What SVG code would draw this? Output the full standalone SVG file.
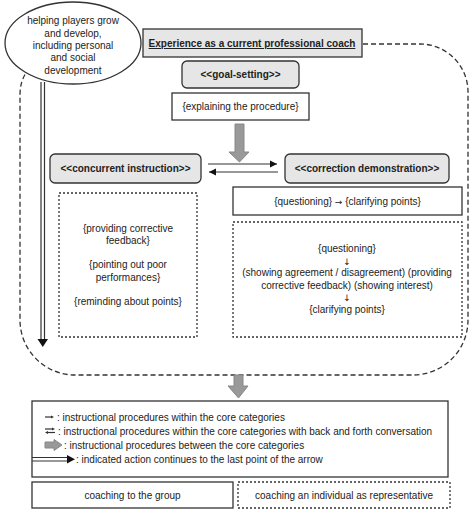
<svg xmlns="http://www.w3.org/2000/svg" width="474" height="514" viewBox="0 0 474 514">
<defs>
<style>
text{font-family:"Liberation Sans",Arial,sans-serif;font-size:10px;fill:#222;text-anchor:middle}
.b{font-weight:bold}
.l{text-anchor:start}
.ar{font-family:"DejaVu Sans",sans-serif;font-size:9px}
.box{fill:#fff;stroke:#333;stroke-width:1.3}
.gbox{fill:#e6e6e6;stroke:#333;stroke-width:1.3}
.dot{fill:#fff;stroke:#333;stroke-width:1.3;stroke-dasharray:2 2}
.dash{fill:none;stroke:#333;stroke-width:1.3;stroke-dasharray:5 3}
.ln{stroke:#333;stroke-width:1.2;fill:none}
.blk{fill:#999;stroke:#888;stroke-width:1}
</style>
<marker id="ah" markerWidth="8" markerHeight="8" refX="7" refY="4" orient="auto" markerUnits="userSpaceOnUse">
<path d="M0,0.5 L7,4 L0,7.5 Z" fill="#111"/>
</marker>
</defs>
<rect width="474" height="514" fill="#fff"/>

<g id="connectors">
<path class="dash" d="M363 44 H420 A48 48 0 0 1 468 92 V320 A55 55 0 0 1 413 375 H75 A55 55 0 0 1 20 320 V95 Q20 82 26 73"/>
<line class="ln" x1="208" y1="164" x2="277" y2="164" marker-end="url(#ah)"/>
<line class="ln" x1="278" y1="172" x2="209" y2="172" marker-end="url(#ah)"/>
<path class="blk" d="M235 124 H244 V152 H249 L239.5 162 L229 152 H235 Z"/>
<path class="blk" d="M234 375 H243 V386 H248 L238.5 398 L228 386 H234 Z"/>
<line class="ln" x1="41" y1="82" x2="41" y2="340"/>
<line class="ln" x1="44.5" y1="82" x2="44.5" y2="340"/>
<path d="M37.5 339 H48 L42.75 347 Z" fill="#111"/>
</g>

<g id="goal-ellipse">
<ellipse cx="73" cy="43" rx="68" ry="41" fill="#fff" stroke="#333" stroke-width="1.3"/>
<text x="73" y="24">helping players grow</text>
<text x="73" y="36.5">and develop,</text>
<text x="73" y="49">including personal</text>
<text x="73" y="61">and social</text>
<text x="73" y="74">development</text>
</g>

<g id="title">
<rect class="gbox" x="143" y="29" width="219" height="28"/>
<text class="b" x="252" y="47" text-decoration="underline">Experience as a current professional coach</text>
</g>

<g id="goal-setting">
<rect class="gbox" x="182" y="61" width="117" height="27" rx="5"/>
<text class="b" x="240.5" y="78">&lt;&lt;goal-setting&gt;&gt;</text>
</g>

<g id="explaining">
<rect class="box" x="172" y="93" width="137" height="27"/>
<text x="240.5" y="110">{explaining the procedure}</text>
</g>

<g id="concurrent">
<rect class="gbox" x="50" y="154" width="151" height="29" rx="5"/>
<text class="b" x="125.5" y="172">&lt;&lt;concurrent instruction&gt;&gt;</text>
</g>

<g id="correction">
<rect class="gbox" x="285" y="154" width="164" height="29" rx="5"/>
<text class="b" x="367" y="172">&lt;&lt;correction demonstration&gt;&gt;</text>
</g>

<g id="concurrent-details">
<rect class="dot" x="59" y="193" width="138" height="144"/>
<text x="128" y="231.5">{providing corrective</text>
<text x="128" y="244">feedback}</text>
<text x="128" y="268">{pointing out poor</text>
<text x="128" y="281">performances}</text>
<text x="128" y="305">{reminding about points}</text>
</g>

<g id="questioning-group">
<rect class="box" x="233" y="187" width="229" height="28"/>
<text x="347.5" y="204.5">{questioning} <tspan class="ar">→</tspan> {clarifying points}</text>
</g>

<g id="questioning-individual">
<rect class="dot" x="233" y="222" width="229" height="115"/>
<text x="347" y="251.5">{questioning}</text>
<text class="ar" x="347" y="264.5">↓</text>
<text x="347" y="276">(showing agreement / disagreement) (providing</text>
<text x="347" y="288.5">corrective feedback) (showing interest)</text>
<text class="ar" x="347" y="300.5">↓</text>
<text x="347" y="312.5">{clarifying points}</text>
</g>

<g id="legend">
<rect class="box" x="32" y="401" width="416" height="76"/>
<line class="ln" x1="45" y1="417" x2="52" y2="417" stroke-width="0.8"/>
<path d="M51 415.5 L54 417 L51 418.5 Z" fill="#333"/>
<text class="l" x="57" y="420.5">: instructional procedures within the core categories</text>
<line class="ln" x1="45" y1="429" x2="53" y2="429" stroke-width="0.8"/>
<path d="M52 427.5 L55 429 L52 430.5 Z" fill="#333"/>
<line class="ln" x1="47" y1="432.5" x2="55" y2="432.5" stroke-width="0.8"/>
<path d="M48 431 L45 432.5 L48 434 Z" fill="#333"/>
<text class="l" x="58" y="434.5">: instructional procedures within the core categories with back and forth conversation</text>
<path class="blk" d="M45 442 H54 V439.5 L62 445 L54 450.5 V448 H45 Z"/>
<text class="l" x="64" y="448.5">: instructional procedures between the core categories</text>
<line class="ln" x1="32" y1="457.5" x2="68" y2="457.5"/>
<line class="ln" x1="32" y1="461" x2="68" y2="461"/>
<path d="M67 455 L75 459.25 L67 463.5 Z" fill="#111"/>
<text class="l" x="76" y="463">: indicated action continues to the last point of the arrow</text>
</g>

<g id="key-group">
<rect class="box" x="32" y="482" width="201" height="26"/>
<text x="132.5" y="498.5">coaching to the group</text>
</g>

<g id="key-individual">
<rect class="dot" x="238" y="482" width="212" height="26"/>
<text x="344" y="498.5">coaching an individual as representative</text>
</g>
</svg>
